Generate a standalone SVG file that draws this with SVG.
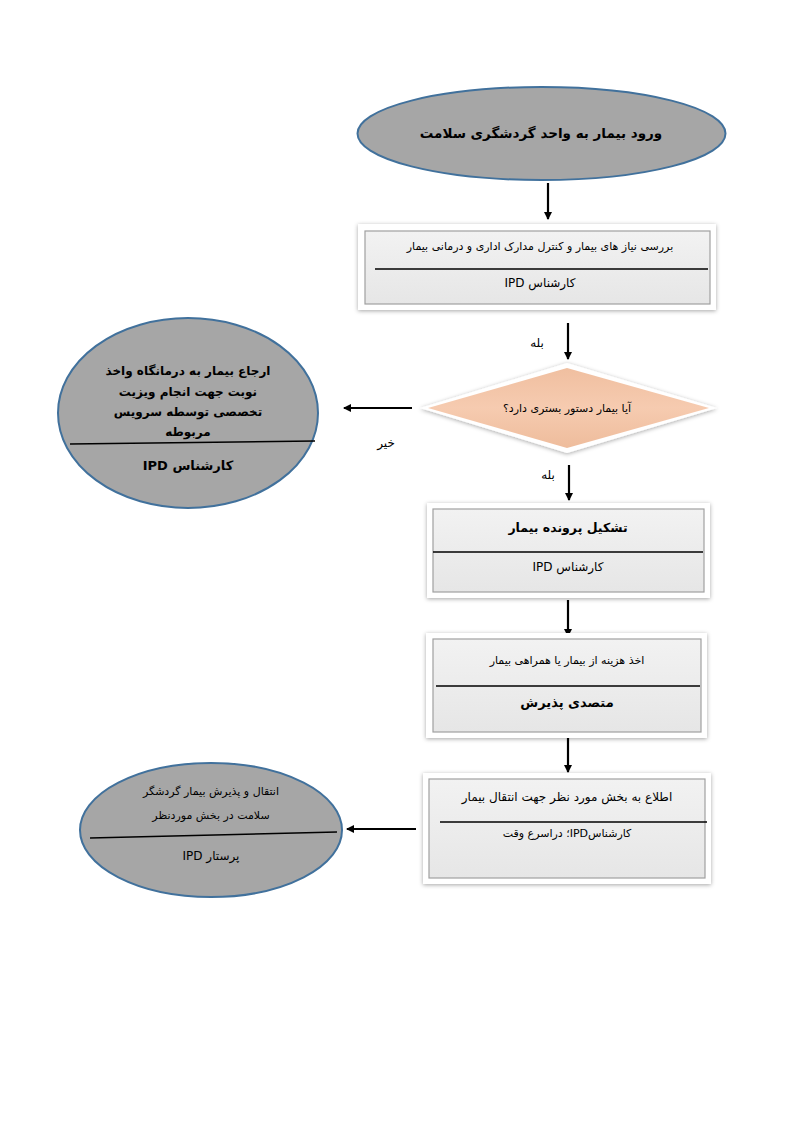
<svg xmlns="http://www.w3.org/2000/svg" width="794" height="1123" viewBox="0 0 794 1123">
<defs>
<style>
text{font-family:"DejaVu Sans","Noto Sans",sans-serif;fill:#000;text-anchor:middle;direction:rtl;}
.ell{fill:#a6a6a6;stroke:#41719c;stroke-width:2;}
.frame{fill:#ffffff;filter:url(#sh);}
.inner{fill:url(#gb);stroke:#a0a0a0;stroke-width:1.2;}
.sep{stroke:#000;stroke-width:1.5;}
.conn{stroke:#000;stroke-width:2.2;fill:none;marker-end:url(#ah);}
.b{font-weight:bold;}
</style>
<linearGradient id="gb" x1="0" y1="0" x2="0" y2="1">
<stop offset="0" stop-color="#f2f2f2"/><stop offset="1" stop-color="#e6e6e6"/>
</linearGradient>
<linearGradient id="gd" x1="0" y1="0" x2="0" y2="1">
<stop offset="0" stop-color="#f0bfa0"/><stop offset="0.5" stop-color="#f6cbb0"/><stop offset="1" stop-color="#eebc9c"/>
</linearGradient>
<filter id="sh" x="-10%" y="-20%" width="120%" height="140%">
<feDropShadow dx="0" dy="1" stdDeviation="2" flood-color="#000" flood-opacity="0.35"/>
</filter>
<marker id="ah" markerWidth="8" markerHeight="8" refX="7" refY="4" orient="auto" markerUnits="userSpaceOnUse">
<path d="M0,0 L8,4 L0,8 z" fill="#000"/>
</marker>
</defs>

<g id="connectors">
<line class="conn" x1="548" y1="183" x2="548" y2="219"/>
<line class="conn" x1="568" y1="323" x2="568" y2="359"/>
<line class="conn" x1="412" y1="408" x2="344" y2="408"/>
<line class="conn" x1="569" y1="465" x2="569" y2="500"/>
<line class="conn" x1="568" y1="600" x2="568" y2="636"/>
<line class="conn" x1="568" y1="736" x2="568" y2="772"/>
<line class="conn" x1="416" y1="829" x2="347" y2="829"/>
<text x="537" y="347" font-size="12">بله</text>
<text x="548" y="479" font-size="12">بله</text>
<text x="386" y="447" font-size="12">خیر</text>
</g>

<g id="start">
<ellipse class="ell" cx="541.5" cy="133.5" rx="184" ry="46.5"/>
<text x="541" y="138" font-size="13.5" class="b">ورود بیمار به واحد گردشگری سلامت</text>
</g>

<g id="review">
<rect class="frame" x="358" y="224" width="358" height="86"/>
<rect class="inner" x="365" y="231" width="345" height="73"/>
<line class="sep" x1="375" y1="269" x2="708" y2="269"/>
<text x="540" y="250" font-size="11">بررسی نیاز های بیمار و کنترل مدارک اداری و درمانی بیمار</text>
<text x="540" y="287" font-size="12">کارشناس IPD</text>
</g>

<g id="decision">
<polygon points="420,408 567,363 717,408 567,453" fill="#ffffff" filter="url(#sh)"/>
<polygon points="428,408 567,368 709,408 567,448" fill="url(#gd)"/>
<text x="567" y="412" font-size="11">آیا بیمار دستور بستری دارد؟</text>
</g>

<g id="referral">
<ellipse class="ell" cx="188" cy="413" rx="130" ry="95"/>
<line class="sep" x1="70" y1="444" x2="315" y2="441"/>
<text x="188" y="375" font-size="12" class="b">ارجاع بیمار به درمانگاه  واخذ</text>
<text x="188" y="396" font-size="12" class="b">نوبت جهت انجام ویزیت</text>
<text x="188" y="416" font-size="12" class="b">تخصصی توسطه سرویس</text>
<text x="188" y="436" font-size="12" class="b">مربوطه</text>
<text x="188" y="470" font-size="13" class="b">کارشناس IPD</text>
</g>

<g id="file">
<rect class="frame" x="427" y="503" width="283" height="95"/>
<rect class="inner" x="433" y="509" width="271" height="83"/>
<line class="sep" x1="433" y1="552" x2="703" y2="552"/>
<text x="568" y="532" font-size="12.5" class="b">تشکیل پرونده بیمار</text>
<text x="568" y="571" font-size="12">کارشناس IPD</text>
</g>

<g id="payment">
<rect class="frame" x="426" y="633" width="281" height="105"/>
<rect class="inner" x="433" y="639" width="268" height="93"/>
<line class="sep" x1="436" y1="686" x2="700" y2="686"/>
<text x="567" y="664" font-size="11">اخذ هزینه از بیمار یا همراهی بیمار</text>
<text x="567" y="707" font-size="13" class="b">متصدی پذیرش</text>
</g>

<g id="notify">
<rect class="frame" x="423" y="773" width="288" height="111"/>
<rect class="inner" x="429" y="779" width="276" height="99"/>
<line class="sep" x1="440" y1="822" x2="707" y2="822"/>
<text x="567" y="801" font-size="12">اطلاع  به بخش مورد نظر جهت انتقال بیمار</text>
<text x="567" y="837" font-size="11">کارشناسIPD؛ دراسرع وقت</text>
</g>

<g id="transfer">
<ellipse class="ell" cx="211" cy="830" rx="131" ry="67"/>
<line class="sep" x1="90" y1="838" x2="337" y2="832"/>
<text x="211" y="795" font-size="11">انتقال و پذیرش بیمار گردشگر</text>
<text x="211" y="819" font-size="11">سلامت در بخش موردنظر</text>
<text x="211" y="860" font-size="12">پرستار IPD</text>
</g>
</svg>
